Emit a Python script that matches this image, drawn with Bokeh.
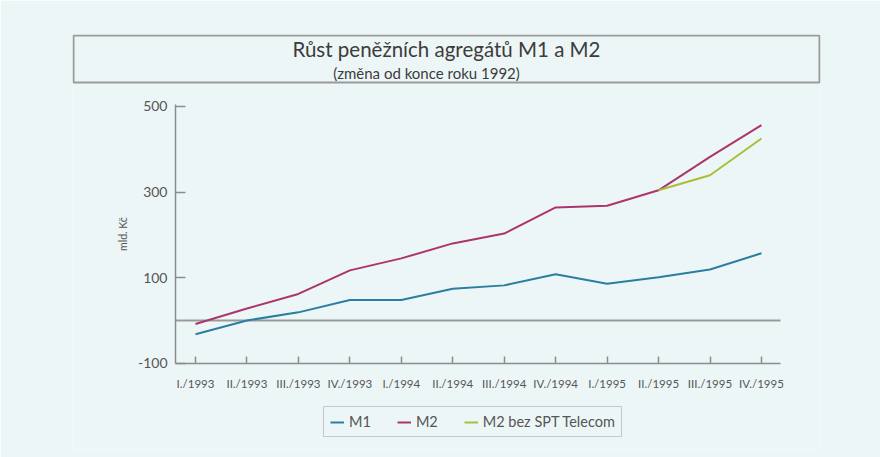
from bokeh.plotting import figure
from bokeh.models import Legend, LegendItem, FixedTicker, Range1d
from bokeh.core.properties import value
from bokeh.embed import file_html
from bokeh.resources import INLINE

# ---- data ----
quarters = ["I./1993", "II./1993", "III./1993", "IV./1993",
            "I./1994", "II./1994", "III./1994", "IV./1994",
            "I./1995", "II./1995", "III./1995", "IV./1995"]
m1 = [-32, 0, 19, 48, 48, 74, 82, 108, 86, 101, 119, 157]
m2 = [-8, 28, 62, 117, 145, 180, 203, 264, 268, 304, 382, 456]
bez_quarters = ["II./1995", "III./1995", "IV./1995"]
m2_bez = [304, 339, 425]
y_ticks = [-100, 100, 300, 500]
y_tick_labels = ["-100", "100", "300", "500"]

title = "Růst peněžních agregátů M1 a M2"
subtitle = "(změna od konce roku 1992)"
y_label = "mld. Kč"
series_names = ["M1", "M2", "M2 bez SPT Telecom"]

# ---- styling / layout (page pixels; the figure starts at the page's top-left) ----
BG = "#edf6f7"
FONT = "Lato"
TXT = "#555555"
AX = "#8c8c8c"
W, H = 880, 457
FL, FR, FT, FB = 72, 820, 34, 448          # frame edges
X0, XS = 195.0, 51.45                      # x of first quarter, px per quarter
Y0, YS = 320.0, 0.42833                    # y of value 0, px per unit
AXIS_L, AXIS_R, AXIS_T, AXIS_B = 175, 780, 104, 363


def dx(px):
    return (px - X0) / XS


def dy(py):
    return (Y0 - py) / YS


xi = list(range(len(quarters)))
bez_x = [quarters.index(q) for q in bez_quarters]

p = figure(width=W, height=H, output_backend="svg", toolbar_location=None,
           x_axis_location="above",
           x_range=Range1d(dx(FL), dx(FR)), y_range=Range1d(dy(FB), dy(FT)),
           min_border_left=FL, min_border_right=W - FR,
           min_border_top=FT, min_border_bottom=H - FB)
p.background_fill_color = BG
p.border_fill_color = BG
p.outline_line_color = None
p.grid.grid_line_color = None

# title box and texts
p.quad(left=[dx(73)], right=[dx(819)], top=[dy(35)], bottom=[dy(82)],
       fill_color=None, line_color="#9a9a9a", line_width=2)
p.text(x=[dx(446)], y=[dy(48)], text=[title], text_align="center", text_baseline="middle",
       text_font=value(FONT), text_font_size="20.5px", text_color="#3c3c3c")
p.text(x=[dx(426)], y=[dy(72)], text=[subtitle], text_align="center", text_baseline="middle",
       text_font=value(FONT), text_font_size="15px", text_color="#3c3c3c")

# zero line
xb = (dx(AXIS_L), dx(AXIS_R))
p.segment(x0=[xb[0]], y0=[0], x1=[xb[1]], y1=[0], line_color="#9a9a9a", line_width=2)

r1 = p.line(xi, m1, line_color="#2c7ea0", line_width=2)
r2 = p.line(xi, m2, line_color="#ab356c", line_width=2)
r3 = p.line(bez_x, m2_bez, line_color="#a9bf35", line_width=2)

# axes (drawn at fixed positions inside the frame)
xa, ya = p.xaxis[0], p.yaxis[0]
xa.ticker = FixedTicker(ticks=xi)
xa.major_label_overrides = {i: q for i, q in zip(xi, quarters)}
xa.bounds = xb
xa.fixed_location = dy(AXIS_B)
ya.ticker = FixedTicker(ticks=y_ticks)
ya.major_label_overrides = {v: s for v, s in zip(y_ticks, y_tick_labels)}
ya.bounds = (dy(AXIS_B), dy(AXIS_T))
ya.fixed_location = xb[0]
for ax in (xa, ya):
    ax.axis_line_color = AX
    ax.axis_line_width = 1.5
    ax.major_tick_line_color = AX
    ax.major_tick_line_width = 1.5
    ax.minor_tick_line_color = None
    ax.major_label_text_font = FONT
    ax.major_label_text_color = TXT
# x axis sits in the "above" panel: ticks point up, labels pulled below the line
xa.major_tick_out = 7
xa.major_tick_in = 0
xa.major_label_text_font_size = "11.5px"
xa.major_label_standoff = -33
ya.major_tick_out = 0
ya.major_tick_in = 10
ya.major_label_text_font_size = "14px"
ya.major_label_standoff = 8
ya.axis_label = y_label
ya.axis_label_text_font = FONT
ya.axis_label_text_font_style = "normal"
ya.axis_label_text_font_size = "10.5px"
ya.axis_label_text_color = TXT
ya.axis_label_standoff = 6

legend = Legend(items=[LegendItem(label=series_names[0], renderers=[r1]),
                       LegendItem(label=series_names[1], renderers=[r2]),
                       LegendItem(label=series_names[2], renderers=[r3])],
                orientation="horizontal", location=(323 - FL, FB - 437))
legend.label_text_font = FONT
legend.label_text_font_size = "14.5px"
legend.label_text_color = TXT
legend.glyph_width = 14
legend.glyph_height = 10
legend.spacing = 26
legend.padding = 6
legend.margin = 0
legend.label_standoff = 5
legend.label_height = 14
legend.border_line_color = "#9a9a9a"
legend.border_line_width = 1.5
legend.background_fill_color = BG
legend.background_fill_alpha = 1
p.add_layout(legend)

open("out.html", "w").write(file_html(p, INLINE))
